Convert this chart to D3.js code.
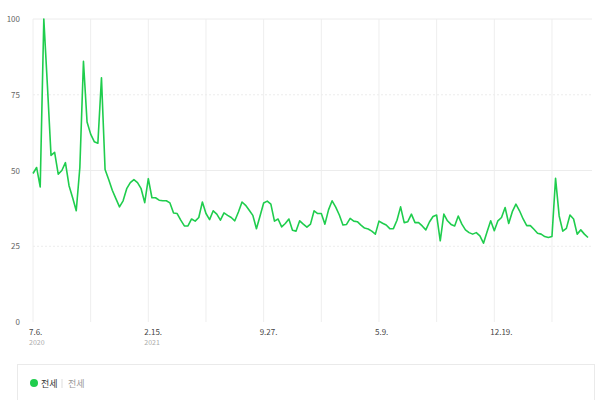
<!DOCTYPE html>
<html><head><meta charset="utf-8">
<script src="https://cdn.jsdelivr.net/npm/d3@7"></script>
<style>
body{margin:0;background:#fff;font-family:"Noto Sans CJK KR","Noto Sans",sans-serif;}
</style></head>
<body>
<div id="chart"></div>
<script>
// weekly index values, starting 2020-07-06
var values = [49,51,44.6,100,78,55,56,48.8,50,52.6,45,41,36.7,51,86,66,62,59.5,59,80.6,
  50.3,47,43.5,40.7,38,40,44,46,47,46,44,39.4,47.3,41,41,40.2,40,40,39.3,36,
  35.8,33.6,31.7,31.7,34,33.3,34.5,39.6,35.8,33.8,36.7,35.6,33.6,36,35.2,34.5,33.4,36.3,39.6,38.5,
  36.9,35.2,30.8,35,39.3,39.9,38.9,33.3,34,31.4,32.5,34,30.3,30,33.4,32.3,31.3,32.3,36.7,35.8,
  35.8,32.3,37,40,37.9,35.3,32,32.2,34.2,33.3,33.1,32,31,30.7,30,29,33.3,32.6,32,30.8,
  30.8,33.6,38,32.8,33.1,35.6,32.8,32.8,31.7,30.4,33,34.8,35.3,26.8,35.6,33.4,32.2,31.7,35,32.3,
  30.4,29.5,29,29.5,28.4,26,29.8,33.4,30.1,33.4,34.5,37.8,32.5,36.4,38.9,36.7,34,31.8,31.8,30.6,
  29.3,29,28.2,27.9,28.2,47.4,35,30,30.9,35.3,34,29,30.4,29,27.9];
var tickWeeks = [0, 32, 64, 96, 128];
var tickLabels = ["7.6.", "2.15.", "9.27.", "5.9.", "12.19."];
var tickYears = ["2020", "2021", "", "", ""];
var gridWeeks = [0,16,32,48,64,80,96,112,128,144];
var yTicks = [0, 25, 50, 75, 100];
var seriesName = "전세";

var W = 600, H = 400;
var svg = d3.select("#chart").append("svg").attr("width", W).attr("height", H);

var x = d3.scaleLinear().domain([0, values.length - 1]).range([33, 588]);
var y = d3.scaleLinear().domain([0, 100]).range([322, 19]);

// gridlines
svg.selectAll(".vg").data(gridWeeks).enter().append("line")
  .attr("x1", d => x(d)).attr("x2", d => x(d))
  .attr("y1", 19).attr("y2", 322)
  .attr("stroke", "#eeeeee").attr("stroke-width", 1);
svg.selectAll(".hg").data(yTicks.slice(1)).enter().append("line")
  .attr("x1", 33).attr("x2", 592)
  .attr("y1", d => y(d)).attr("y2", d => y(d))
  .attr("stroke", "#ececec").attr("stroke-dasharray", d => d % 50 ? "2,2" : null);

// y labels
svg.selectAll(".yl").data(yTicks).enter().append("text")
  .attr("x", 20).attr("y", d => y(d) + 3)
  .attr("text-anchor", "end").attr("font-size", 8).attr("fill", "#666")
  .text(d => d);

// x labels
svg.selectAll(".xl").data(tickWeeks).enter().append("text")
  .attr("x", d => x(d) - 4).attr("y", 335)
  .attr("font-size", 8).attr("fill", "#444")
  .text((d, i) => tickLabels[i]);
svg.selectAll(".xy").data(tickWeeks).enter().append("text")
  .attr("x", d => x(d) - 4).attr("y", 345)
  .attr("font-size", 7).attr("fill", "#aaa")
  .text((d, i) => tickYears[i]);

// line
var line = d3.line().x((d, i) => x(i)).y(d => y(d));
svg.append("path").datum(values)
  .attr("d", line).attr("fill", "none")
  .attr("stroke", "#1fcd4d").attr("stroke-width", 1.6)
  .attr("stroke-linejoin", "round");

// legend
svg.append("rect").attr("x", 17.5).attr("y", 364.5).attr("width", 577).attr("height", 50)
  .attr("fill", "#fff").attr("stroke", "#eaeaea");
svg.append("circle").attr("cx", 34).attr("cy", 383).attr("r", 4).attr("fill", "#1fcd4d");
svg.append("text").attr("x", 41).attr("y", 386.5).attr("font-size", 9).attr("fill", "#333").text(seriesName);
svg.append("line").attr("x1", 62).attr("x2", 62).attr("y1", 379).attr("y2", 388).attr("stroke", "#ddd");
svg.append("text").attr("x", 68).attr("y", 386.5).attr("font-size", 9).attr("fill", "#999").text(seriesName);
</script>
</body></html>
